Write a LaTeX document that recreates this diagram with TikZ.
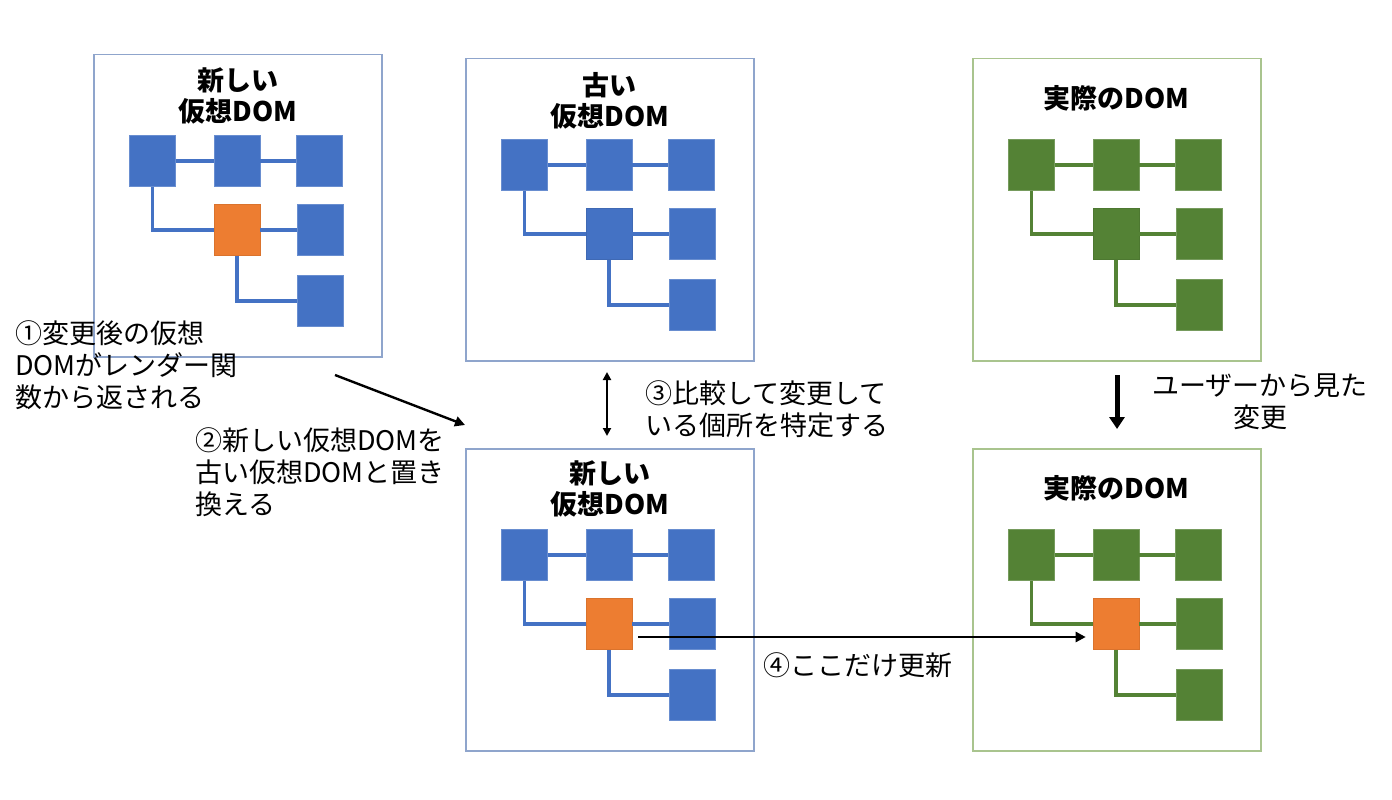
\documentclass[tikz,border=0pt]{standalone}
\usepackage{fontspec}
\setmainfont{Noto Sans CJK JP}
\usetikzlibrary{arrows.meta}
\definecolor{sqblue}{HTML}{4472C4}
\definecolor{sqorange}{HTML}{ED7D31}
\definecolor{sqgreen}{HTML}{548235}
\definecolor{boxblue}{HTML}{8FA5CC}
\definecolor{boxgreen}{HTML}{A9C48E}
\tikzset{
  sq/.style={rectangle, minimum width=46pt, minimum height=51pt, inner sep=0pt, line width=0.6pt},
  frame/.style={rectangle, draw=#1, line width=1.5pt, minimum width=288pt, minimum height=302pt, anchor=north west, inner sep=0pt},
  ttl/.style={font=\bfseries\fontsize{27}{31}\selectfont, align=center, inner sep=0pt},
  body/.style={font=\fontsize{27}{32}\selectfont, inner sep=0pt},
  link/.style={line width=3.3pt},
  arr/.style={line width=2.4pt, -{Triangle[length=10pt,width=10pt]}},
}
\newcommand\domtree[5]{%
  \begin{scope}[shift={(#2,#3)}]
    \node[sq,fill=#4,draw=#4!80!white] (#1s1) at (59.5,107) {};
    \node[sq,fill=#4,draw=#4!80!white] (#1s2) at (144,107) {};
    \node[sq,fill=#4,draw=#4!80!white] (#1s3) at (226.5,107) {};
    \node[sq,fill=#5,draw=#5!92!black] (#1m) at (144,176) {};
    \node[sq,fill=#4,draw=#4!80!white] (#1r2) at (227.5,176) {};
    \node[sq,fill=#4,draw=#4!80!white] (#1r3) at (227.5,247) {};
  \end{scope}
  \draw[link,#4] (#1s1.east) -- (#1s2.west);
  \draw[link,#4] (#1s2.east) -- (#1s3.west);
  \draw[link,#4] (#1s1.south) |- (#1m.west);
  \draw[link,#4] (#1m.east) -- (#1r2.west);
  \draw[link,#4] (#1m.south) |- (#1r3.west);
}
\begin{document}
\begin{tikzpicture}[x=1pt,y=-1pt]
\useasboundingbox[fill=white] (0,0) rectangle (1392,800);
% frames
\node[frame=boxblue] (A) at (93,54) {};
\node[frame=boxblue] (B) at (465,58) {};
\node[frame=boxgreen] (C) at (972,58) {};
\node[frame=boxblue] (D) at (465,448) {};
\node[frame=boxgreen] (E) at (972,448) {};
% titles
\node[ttl] (At) at ([yshift=-42pt]A.north) {新しい\\仮想DOM};
\node[ttl] (Bt) at ([yshift=-43pt]B.north) {古い\\仮想DOM};
\node[ttl] (Ct) at ([yshift=-40pt]C.north) {実際のDOM};
\node[ttl] (Dt) at ([yshift=-41pt]D.north) {新しい\\仮想DOM};
\node[ttl] (Et) at ([yshift=-40pt]E.north) {実際のDOM};
% trees
\domtree{a}{93}{54}{sqblue}{sqorange}
\domtree{b}{465}{58}{sqblue}{sqblue}
\domtree{c}{972}{58}{sqgreen}{sqgreen}
\domtree{d}{465}{448}{sqblue}{sqorange}
\domtree{e}{972}{448}{sqgreen}{sqorange}
% texts
\node[body, anchor=west, align=left] (t1) at (15,365) {①変更後の仮想\\DOMがレンダー関\\数から返される};
\node[body, anchor=west, align=left] (t2) at (195,472) {②新しい仮想DOMを\\古い仮想DOMと置き\\換える};
\node[body, anchor=west, align=left] (t3) at (645,409) {③比較して変更して\\いる個所を特定する};
\node[body, align=center] (t4) at (1260,402) {ユーザーから見た\\変更};
\node[body, anchor=west] (t5) at (763,665) {④ここだけ更新};
% arrows
\coordinate (p1s) at (335,375);
\coordinate (p1e) at (465,425);
\draw[arr] (p1s) -- (p1e);
\coordinate (p3s) at (607,372);
\coordinate (p3e) at (607,436);
\draw[line width=2pt, {Triangle[length=8pt,width=8pt]}-{Triangle[length=8pt,width=8pt]}] (p3s) -- (p3e);
\coordinate (p4s) at (1117,375);
\coordinate (p4e) at (1117,429);
\draw[line width=5pt, -{Triangle[length=12pt,width=15pt]}] (p4s) -- (p4e);
\coordinate (p5s) at (638,637);
\draw[arr] (p5s) -- ([xshift=-7pt]em.west |- p5s);
\end{tikzpicture}
\end{document}
